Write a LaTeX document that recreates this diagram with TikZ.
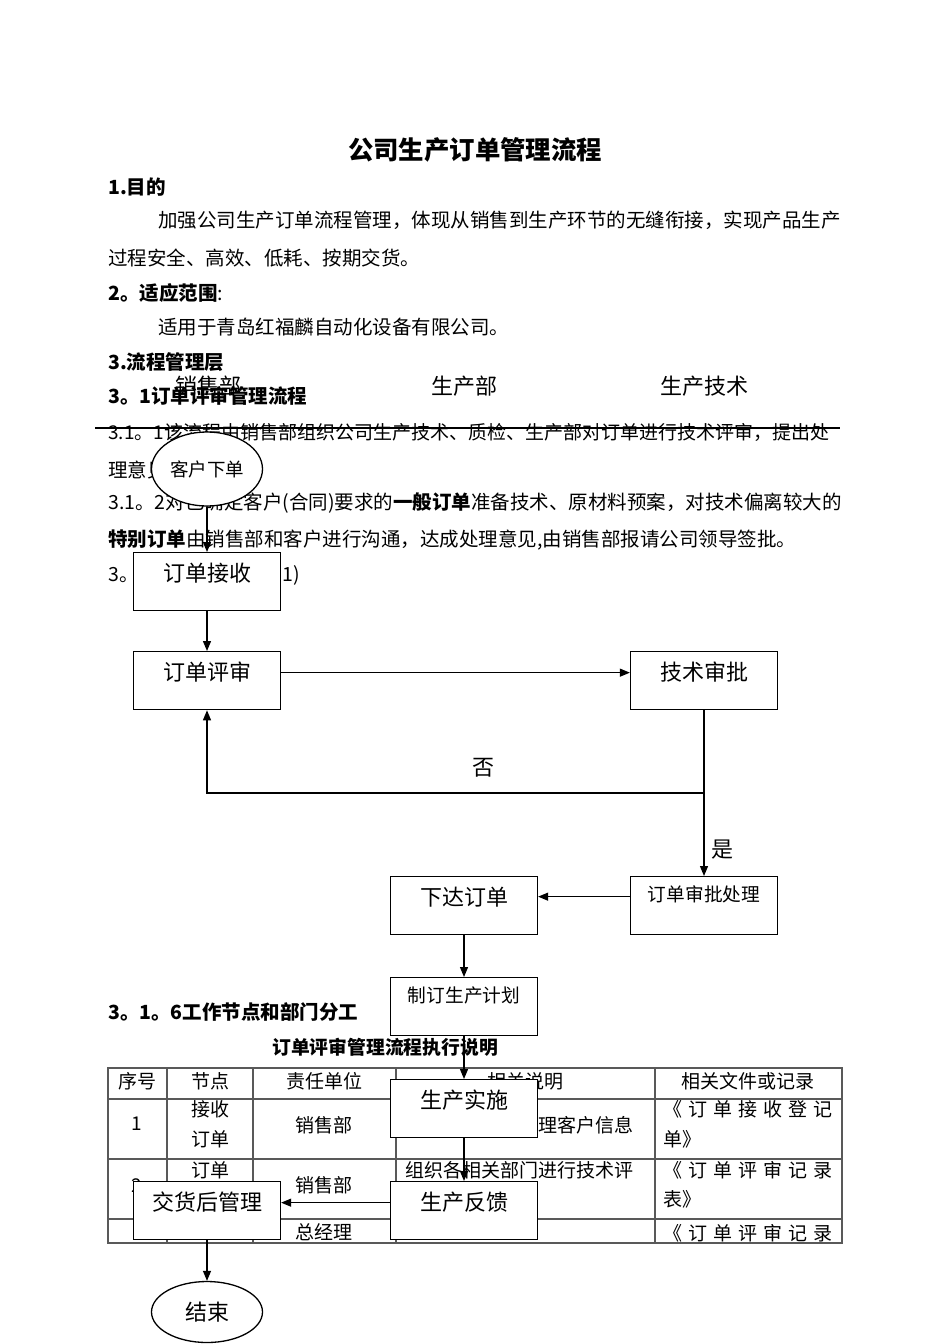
\documentclass[tikz,border=0pt]{standalone}
\usepackage{fontspec}
\setmainfont{Noto Sans CJK SC}
\usetikzlibrary{arrows.meta,shapes.geometric}
\XeTeXlinebreaklocale "zh"
\XeTeXlinebreakskip=0pt plus 3pt minus 1pt
\begin{document}
\begin{tikzpicture}[x=1pt,y=-1pt,
  txt/.style={anchor=west,inner sep=0pt,font=\fontsize{19.5}{20}\selectfont},
  hd/.style={anchor=west,inner sep=0pt,font=\fontsize{19.5}{20}\selectfont\bfseries},
  lane/.style={inner sep=0pt,font=\fontsize{22}{22}\selectfont},
  cell/.style={inner sep=0pt,font=\fontsize{19}{19}\selectfont},
  lcell/.style={cell,anchor=west},
  grid/.style={draw=black!65,line width=1.2pt},
  box/.style={draw,line width=1.3pt,fill=white,anchor=north,minimum width=147pt,
    inner xsep=0pt,inner ysep=0pt,text height=28.4pt,text depth=29.6pt,
    font=\fontsize{22}{22}\selectfont},
  sbox/.style={box,font=\fontsize{18.7}{19}\selectfont,text height=25pt,text depth=33pt},
  ell/.style={draw,ellipse,line width=1.3pt,fill=white,inner sep=0pt,minimum width=111pt},
  arr/.style={-{Triangle[length=10pt,width=8pt]},line width=1.2pt},
  lbl/.style={inner sep=0pt,font=\fontsize{22}{22}\selectfont}]
\useasboundingbox (0,0) rectangle (950,1344);
\fill[white] (0,0) rectangle (950,1344);

% ---------- document text ----------
\node[inner sep=0pt,font=\fontsize{25.4}{26}\selectfont\bfseries] (title) at (475,150) {公司生产订单管理流程};
\node[hd] (h1) at (108,187) {1.目的};
\node[txt] (p1) at (158,220) {\makebox[682pt][s]{加强公司生产订单流程管理，体现从销售到生产环节的无缝衔接，实现产品生产}};
\node[txt] (p2) at (108,258) {过程安全、高效、低耗、按期交货。};
\node[hd] (h2) at (108,293) {2。适应范围\mdseries:};
\node[txt] (p3) at (158,327) {适用于青岛红福麟自动化设备有限公司。};
\node[hd] (h3) at (108,362) {3.流程管理层};
\node[hd] (h31) at (108,396) {3。1订单评审管理流程};
\node[txt,font=\fontsize{19}{20}\selectfont] (p4) at (108,432) {\makebox[732pt][s]{3.1。1该流程由销售部组织公司生产技术、质检、生产部对订单进行技术评审，提出处}};
\coordinate (s1) at (95,428);
\coordinate (s2) at (840,428);
\draw[line width=1.2pt] (s1) -- (s2);
\node[txt] (p5) at (108,470) {理意见。};
\node[txt] (p6) at (108,503) {\makebox[732pt][s]{3.1。2对已确定客户(合同)要求的\textbf{一般订单}准备技术、原材料预案，对技术偏离较大的}};
\node[txt] (p7) at (108,540) {\textbf{特别订单}由销售部和客户进行沟通，达成处理意见,由销售部报请公司领导签批。};
\node[txt] (p8) at (108,575) {3。};
\node[txt] (p9) at (282,575) {1)};

% lane headers
\node[lane] (l1) at (208,386) {销售部};
\node[lane] (l2) at (464,386) {生产部};
\node[lane] (l3) at (704,386) {生产技术};

\node[hd] (h316) at (108,1012) {3。1。6工作节点和部门分工};
\node[inner sep=0pt,font=\fontsize{18.8}{19}\selectfont\bfseries] (tt) at (385,1047) {订单评审管理流程执行说明};

% ---------- table ----------
\draw[grid] (108,1068) rectangle (842,1243);
\draw[grid] (108,1099) -- (842,1099);
\draw[grid] (108,1159) -- (842,1159);
\draw[grid] (108,1219) -- (842,1219);
\foreach \cx in {167,253,396,655} \draw[grid] (\cx,1068) -- (\cx,1243);

\node[cell] (t11) at (137,1081) {序号};
\node[cell] (t12) at (210,1081) {节点};
\node[cell] (t13) at (324,1081) {责任单位};
\node[cell] (t14) at (525,1081) {相关说明};
\node[cell] (t15) at (748,1081) {相关文件或记录};

\node[cell] (t21) at (137,1124) {1};
\node[cell] (t22a) at (210,1109) {接收};
\node[cell] (t22b) at (210,1139) {订单};
\node[cell] (t23) at (324,1125) {销售部};
\node[lcell] (t24) at (405,1125) {\makebox[238pt][s]{接收订单，并整理客户信息}};
\node[lcell] (t25a) at (663,1109) {\makebox[169pt][s]{《\hfill 订\hfill 单\hfill 接\hfill 收\hfill 登\hfill 记}};
\node[lcell] (t25b) at (663,1139) {单》};

\node[cell] (t31) at (137,1186) {2};
\node[cell] (t32a) at (210,1170) {订单};
\node[cell] (t32b) at (210,1199) {评审};
\node[cell] (t33) at (324,1185) {销售部};
\node[lcell] (t34a) at (405,1170) {\makebox[243pt][s]{组织各相关部门进行技术评}};
\node[lcell] (t34b) at (405,1199) {审，并提出意见};
\node[lcell] (t35a) at (663,1170) {\makebox[169pt][s]{《\hfill 订\hfill 单\hfill 评\hfill 审\hfill 记\hfill 录}};
\node[lcell] (t35b) at (663,1199) {表》};

\node[cell] (t43) at (324,1232) {总经理};
\node[lcell] (t45) at (663,1233) {\makebox[169pt][s]{《\hfill 订\hfill 单\hfill 评\hfill 审\hfill 记\hfill 录}};

% ---------- flowchart ----------
\node[ell,minimum height=74pt,font=\fontsize{18.5}{19}\selectfont] (start) at (207,469) {客户下单};
\node[box] (jieshou) at (207,552) {订单接收};
\node[box] (pingshen) at (207,651) {订单评审};
\node[box] (jishu) at (704,651) {技术审批};
\node[sbox] (shenpi) at (704,876) {订单审批处理};
\node[box] (xiada) at (464,876) {下达订单};
\node[sbox] (jihua) at (464,977) {制订生产计划};
\node[box] (shishi) at (464,1079) {生产实施};
\node[box] (fankui) at (464,1181) {生产反馈};
\node[box] (jiaohuo) at (207,1181) {交货后管理};
\node[ell,minimum height=61pt,font=\fontsize{22}{22}\selectfont] (end) at (207,1312) {结束};

\coordinate (c1) at (704,793);
\coordinate (c2) at (207,793);

\draw[arr] (start) -- (jieshou);
\draw[arr] (jieshou) -- (pingshen);
\draw[arr] ([yshift=8pt]pingshen.east) -- ([yshift=8pt]jishu.west);
\draw[arr] (jishu.south) -- (c1) -- (c2) -- (pingshen.south);
\draw[arr] (c1) -- (shenpi.north);
\draw[arr] ([yshift=9pt]shenpi.west) -- ([yshift=9pt]xiada.east);
\draw[arr] (xiada) -- (jihua);
\draw[arr] (jihua) -- (shishi);
\draw[arr] (shishi) -- (fankui);
\draw[arr] ([yshift=8pt]fankui.west) -- ([yshift=8pt]jiaohuo.east);
\draw[arr] (jiaohuo) -- (end);

\node[lbl] (no) at (483,768) {否};
\node[lbl] (yes) at (722,850) {是};
\end{tikzpicture}
\end{document}
